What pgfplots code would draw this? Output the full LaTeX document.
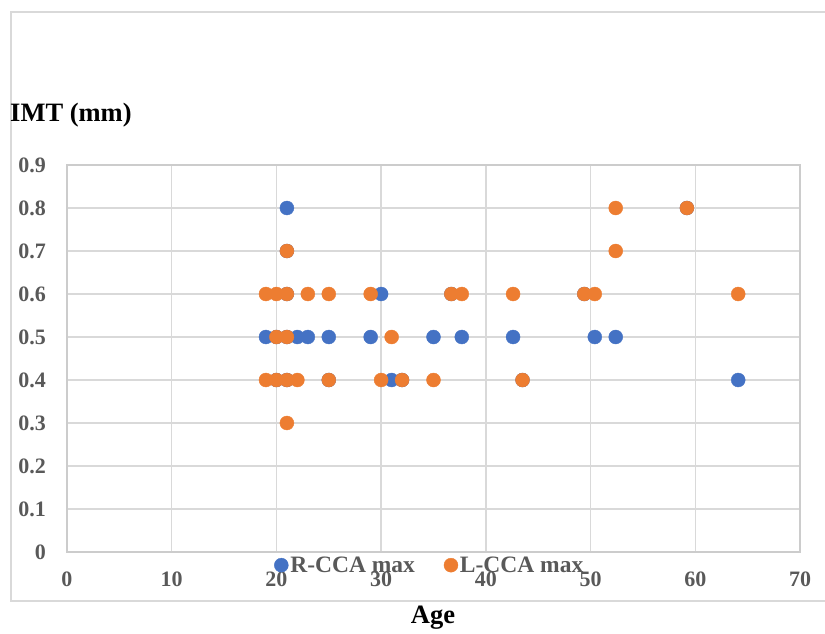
\documentclass[border=0pt]{standalone}
\usepackage{pgfplots}
\pgfplotsset{compat=1.18}
\usepackage{fontspec}
\setmainfont{Liberation Serif}
\definecolor{rblue}{HTML}{4472C4}
\definecolor{lorange}{HTML}{ED7D31}
\definecolor{ticktext}{HTML}{595959}
\definecolor{gridc}{HTML}{D9D9D9}
\begin{document}
\begin{tikzpicture}[x=1pt,y=1pt]
\useasboundingbox (0,0) rectangle (825,633);
\draw[gridc, line width=1.3pt] (11,32) rectangle (845,621);
\node[anchor=west, inner sep=0pt, font=\fontsize{26.5}{30}\selectfont\bfseries] at (10,518) {IMT (mm)};
\node[anchor=center, inner sep=0pt, font=\fontsize{26.5}{30}\selectfont\bfseries] at (433,15) {Age};
\begin{axis}[
  at={(67pt,81pt)}, anchor=south west,
  width=733pt, height=387pt, scale only axis,
  xmin=0, xmax=70, ymin=0, ymax=0.9,
  xtick={0,10,20,30,40,50,60,70},
  xticklabels={0,10,20,30,40,50,60,70},
  ytick={0,0.1,0.2,0.3,0.4,0.5,0.6,0.7,0.8,0.9},
  yticklabels={0,0.1,0.2,0.3,0.4,0.5,0.6,0.7,0.8,0.9},
  major tick length=0pt,
  grid=major,
  grid style={draw=gridc, line width=1.3pt},
  axis line style={draw=gridc!85!gray, line width=1.3pt},
  tick label style={font=\fontsize{22}{26}\selectfont\bfseries, text=ticktext, inner sep=0pt},
  yticklabel style={anchor=east, xshift=-21pt},
  xticklabel style={anchor=north, yshift=-20pt},
  /pgf/number format/assume math mode=true,
  legend style={at={(0.495,-0.034)}, anchor=center, draw=none, fill=none,
    font=\fontsize{23.5}{27}\selectfont\bfseries, text=ticktext,
    /tikz/every even column/.append style={column sep=27pt}},
  legend image post style={xshift=-3pt},
  legend columns=2,
  clip=false,
]
\addplot[only marks, mark=*, mark size=7pt, color=rblue, mark options={fill=rblue, draw=rblue}] coordinates {
  (21,0.8) (21,0.7) (30,0.6) (21,0.6) (36.7,0.6) (49.4,0.6) (59.2,0.8)
  (19,0.5) (20,0.5) (21,0.5) (22,0.5) (23,0.5) (25,0.5) (29,0.5) (35,0.5)
  (37.7,0.5) (42.6,0.5) (50.4,0.5) (52.4,0.5)
  (20,0.4) (21,0.4) (25,0.4) (31,0.4) (32,0.4) (43.5,0.4) (64.1,0.4)
};
\addlegendentry{R-CCA max}
\addplot[only marks, mark=*, mark size=7pt, color=lorange, mark options={fill=lorange, draw=lorange}] coordinates {
  (52.4,0.8) (59.2,0.8) (21,0.7) (52.4,0.7)
  (19,0.6) (20,0.6) (21,0.6) (23,0.6) (25,0.6) (29,0.6) (36.7,0.6) (37.7,0.6)
  (42.6,0.6) (49.4,0.6) (50.4,0.6) (64.1,0.6)
  (20,0.5) (21,0.5) (31,0.5)
  (19,0.4) (20,0.4) (21,0.4) (22,0.4) (25,0.4) (30,0.4) (32,0.4) (35,0.4) (43.5,0.4)
  (21,0.3)
};
\addlegendentry{L-CCA max}
\end{axis}
\end{tikzpicture}
\end{document}
